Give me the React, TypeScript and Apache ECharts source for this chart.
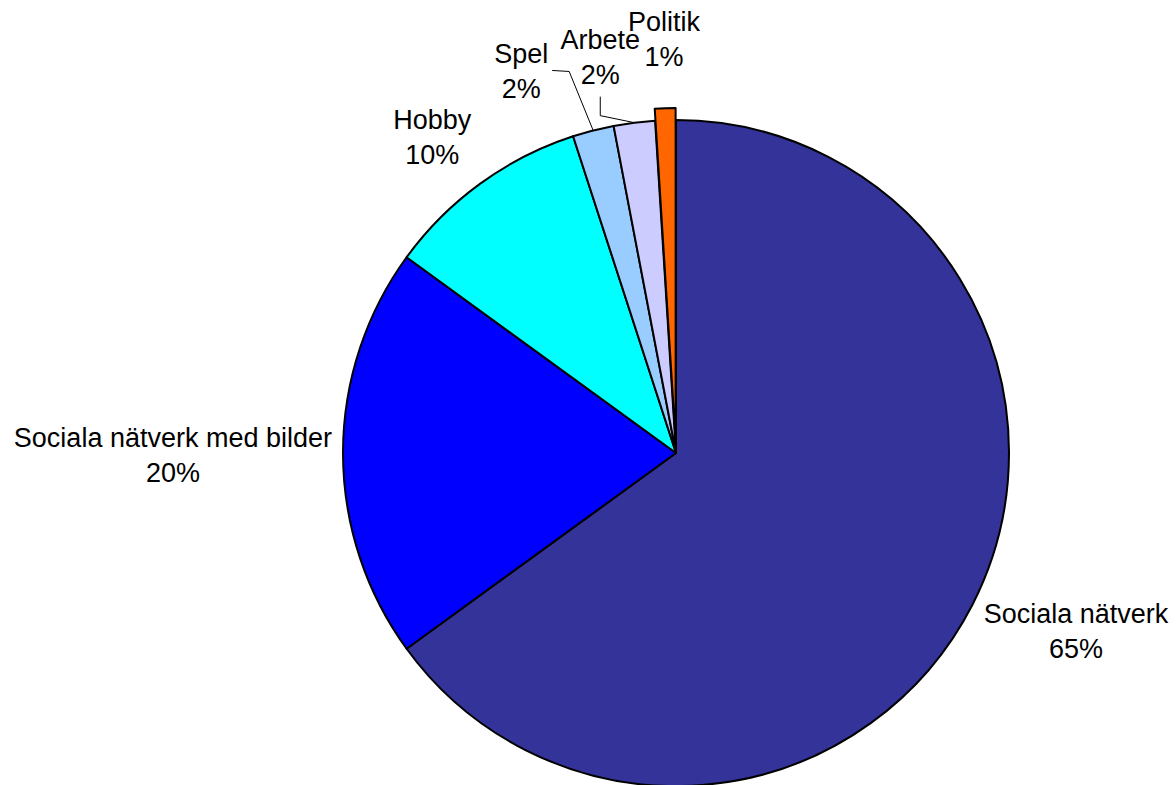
import React, { useEffect, useRef } from 'react';
import * as echarts from 'echarts';

const categories = ['Sociala nätverk', 'Sociala nätverk med bilder', 'Hobby', 'Spel', 'Arbete', 'Politik'];
const values = [65, 20, 10, 2, 2, 1];
const colors = ['#333399', '#0000FF', '#00FFFF', '#99CCFF', '#CCCCFF', '#FF6600'];
const explodedIndex = 5;
const leaderIndices = [3, 4];

// Label nudges relative to the library's default label box (for labels without leader lines)
const labelShiftX = [6, -6, -4, 0, 0, 0];
const labelShiftY = [27, 2, -46, 0, 0, 0];
// Leader-line bends relative to the slice's edge anchor (Spel, Arbete)
const leaderBend: Record<number, number[]> = { 3: [-24, -59], 4: [-34, -7] };
const leaderEnd: Record<number, number[]> = { 3: [-41, -60], 4: [-34, -26] };
const leaderLabel: Record<number, number[]> = { 3: [-72, -59], 4: [-34, -65] };

export default function App() {
  const ref = useRef<HTMLDivElement>(null);
  useEffect(() => {
    if (!ref.current) return;
    const chart = echarts.init(ref.current, null, { renderer: 'svg' });
    const data = categories.map((name, i) => ({
      name,
      value: values[i],
      selected: i === explodedIndex,
      itemStyle: { color: colors[i] },
      select: { itemStyle: { color: colors[i], borderColor: '#000', borderWidth: 2 } },
      labelLine:
        i === explodedIndex
          ? { show: false, length: 69, length2: -6 }
          : leaderIndices.includes(i)
          ? { show: true }
          : { show: false },
    }));
    chart.setOption({
      animation: false,
      backgroundColor: '#ffffff',
      series: [
        {
          type: 'pie',
          center: [676, 453],
          radius: 333,
          startAngle: 90,
          clockwise: true,
          selectedMode: 'single',
          selectedOffset: 12,
          avoidLabelOverlap: false,
          emphasis: { disabled: true },
          itemStyle: { borderColor: '#000', borderWidth: 2 },
          label: {
            show: true,
            position: 'outside',
            formatter: (p: any) => `{a|${p.name}}\n{a|${Math.round(p.percent)}%}`,
            rich: {
              a: {
                fontFamily: 'Liberation Sans, Arial, sans-serif',
                fontSize: 27,
                lineHeight: 35,
                color: '#000',
                align: 'center',
              },
            },
          },
          labelLine: {
            show: false,
            length: 0,
            length2: 0,
            lineStyle: { color: '#000', width: 1 },
          },
          labelLayout: (p: any) => {
            const i = p.dataIndex;
            if (i === explodedIndex) {
              return { align: 'center', verticalAlign: 'middle' };
            }
            const lp = p.labelLinePoints;
            if (leaderIndices.includes(i) && lp) {
              const ax = lp[0][0];
              const ay = lp[0][1];
              return {
                x: ax + leaderLabel[i][0],
                y: ay + leaderLabel[i][1],
                align: 'center',
                verticalAlign: 'middle',
                labelLinePoints: [
                  [ax, ay],
                  [ax + leaderBend[i][0], ay + leaderBend[i][1]],
                  [ax + leaderEnd[i][0], ay + leaderEnd[i][1]],
                ],
              };
            }
            const r = p.labelRect;
            return {
              x: r.x + r.width / 2 + labelShiftX[i],
              y: r.y + r.height / 2 + labelShiftY[i],
              align: 'center',
              verticalAlign: 'middle',
            };
          },
          data,
        },
      ],
    });
    return () => chart.dispose();
  }, []);
  return (
    <div
      ref={ref}
      style={{ position: 'absolute', left: 0, top: 0, width: 1176, height: 785, background: '#fff' }}
    />
  );
}
